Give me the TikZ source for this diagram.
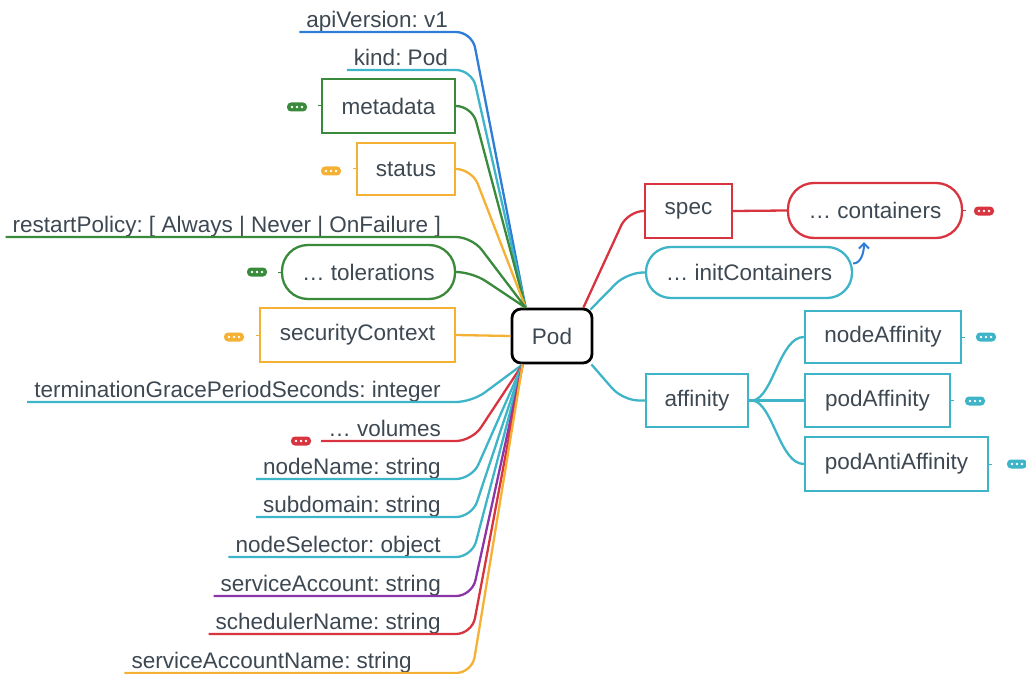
\documentclass[tikz,border=0pt]{standalone}
\usepackage{fontspec}
\setmainfont{Liberation Sans}
\usetikzlibrary{calc,arrows.meta}
\frenchspacing

\definecolor{ink}{HTML}{3D4852}
\definecolor{cBlue}{HTML}{2E7DD6}
\definecolor{cCyan}{HTML}{3DB4C8}
\definecolor{cGreen}{HTML}{3A8A3C}
\definecolor{cOrange}{HTML}{F5B133}
\definecolor{cRed}{HTML}{D8343F}
\definecolor{cPurple}{HTML}{8A36A8}

\tikzset{
  wire/.style={line width=2.3pt, rounded corners=16pt},
  field/.style={anchor=south east, inner xsep=7pt, inner ysep=2pt,
    text height=.75em, text depth=.25em, text=ink},
  box/.style={draw, line width=2.3pt, text=ink, minimum height=54pt, inner sep=0pt},
  stadium/.style={box, rounded corners=26pt},
  pill/.style={rounded corners=4pt, minimum width=20pt, minimum height=9pt, inner sep=0pt},
  stub/.style={line width=1pt},
}

% collapsed-branch marker: name, colour, position
\newcommand\collapsed[3]{%
  \node[pill, fill=#2] (#1) at (#3) {};
  \foreach \dx in {-5,0,5} \fill[white] ($(#1.center)+(\dx,0)$) circle (1.3pt);
}

\begin{document}
\begin{tikzpicture}[x=1pt, y=-1pt, font=\fontsize{22.5}{27}\selectfont]
\useasboundingbox (0,0) rectangle (1026,674);

% root
\node[box, draw=black, line width=2.8pt, rounded corners=9pt, minimum width=80pt] (pod) at (552,336) {Pod};
\coordinate (pu) at ($(pod.north west)+(15,0)$);
\coordinate (pd) at ($(pod.south west)+(12,0)$);
\coordinate (bend) at (472,0);

% ---- left side: plain fields ----
\node[field] (api)   at (455,32)  {apiVersion: v1};
\node[field] (kind)  at (455,70)  {kind: Pod};
\node[field] (rp)    at (448,237) {restartPolicy: [ Always | Never | OnFailure ]};
\node[field] (tgps)  at (448,402) {terminationGracePeriodSeconds: integer};
\node[field] (vol)   at (448,441) {… volumes};
\node[field] (nn)    at (448,479) {nodeName: string};
\node[field] (sd)    at (448,517) {subdomain: string};
\node[field] (ns)    at (448,557) {nodeSelector: object};
\node[field] (sa)    at (448,596) {serviceAccount: string};
\node[field] (sn)    at (448,634) {schedulerName: string};
\node[field] (san)   at (419,673) {serviceAccountName: string};

% ---- left side: boxed fields ----
\node[box, draw=cGreen, minimum width=133pt] (meta) at (388.5,106) {metadata};
\node[box, draw=cOrange, minimum width=98pt, minimum height=52pt] (status) at (406,169) {status};
\node[stadium, draw=cGreen, minimum width=173pt] (tol) at (368.5,272) {… tolerations};
\node[box, draw=cOrange, minimum width=195pt] (sec) at (357.5,335) {securityContext};

% ---- connectors into the root, upper half ----
\draw[wire, cBlue]   (api.south west)  -- (api.south west -| bend)  -- (pu);
\draw[wire, cCyan]   (kind.south west) -- (kind.south west -| bend) -- (pu);
\draw[wire, cGreen]  (meta.east)       -- (meta.east -| bend)       -- (pu);
\draw[wire, cOrange] (status.east)     -- (status.east -| bend)     -- (pu);
\draw[wire, cGreen]  (rp.south west)   -- (rp.south west -| bend)   -- (pu);
\draw[wire, cGreen]  (tol.east)        -- (tol.east -| bend)        -- (pu);
\draw[line width=2.3pt, cOrange] (sec.east) -- (pod.west);

% ---- connectors into the root, lower half ----
\draw[wire, cCyan]   (tgps.south west) -- (tgps.south west -| bend) -- (pd);
\draw[wire, cRed]    (vol.south west)  -- (vol.south west -| bend)  -- (pd);
\draw[wire, cCyan]   (nn.south west)   -- (nn.south west -| bend)   -- (pd);
\draw[wire, cCyan]   (sd.south west)   -- (sd.south west -| bend)   -- (pd);
\draw[wire, cCyan]   (ns.south west)   -- (ns.south west -| bend)   -- (pd);
\draw[wire, cPurple] (sa.south west)   -- (sa.south west -| bend)   -- (pd);
\draw[wire, cRed]    (sn.south west)   -- (sn.south west -| bend)   -- (pd);
\draw[wire, cOrange] (san.south west)  -- (san.south west -| bend)  -- (pd);

% ---- collapsed markers, left ----
\collapsed{metaMore}{cGreen}{297,107}
\collapsed{statusMore}{cOrange}{331,171}
\collapsed{tolMore}{cGreen}{257,272}
\collapsed{secMore}{cOrange}{234,337}
\collapsed{volMore}{cRed}{301,441}
\draw[stub, cGreen]  (meta.west)   -- ++(-3,0);
\draw[stub, cOrange] (status.west) -- ++(-3,0);
\draw[stub, cGreen]  (tol.west)    -- ++(-3,0);
\draw[stub, cOrange] (sec.west)    -- ++(-3,0);

% ---- right side ----
\node[box, draw=cRed, minimum width=87pt] (spec) at (688.5,211) {spec};
\node[stadium, draw=cRed, minimum width=174pt, minimum height=55pt] (cont) at (875,210.5) {… containers};
\node[stadium, draw=cCyan, minimum width=206pt, minimum height=51pt, rounded corners=25pt] (init) at (749,272.5) {… initContainers};
\node[box, draw=cCyan, minimum width=102pt, minimum height=53pt] (aff) at (697,400.5) {affinity};
\node[box, draw=cCyan, minimum width=156pt, minimum height=52pt] (naff) at (883,337) {nodeAffinity};
\node[box, draw=cCyan, minimum width=145pt, minimum height=53pt] (paff) at (877.5,400.5) {podAffinity};
\node[box, draw=cCyan, minimum width=183pt] (paaff) at (896.5,464) {podAntiAffinity};

\draw[wire, cRed]  ($(pod.north east)+(-10,0)$) -- ($(spec.west)+(-16,0)$) -- (spec.west);
\draw[wire, cCyan] ($(pod.north east)+(-3,2)$) -- ($(init.west)+(-18,0)$) -- (init.west);
\draw[wire, cCyan] ($(pod.south east)+(-2,0)$) -- ($(aff.west)+(-22,0)$) -- (aff.west);
\draw[line width=2.3pt, cRed] (spec.east) -- (cont.west);

\coordinate (fan) at ($(aff.east)+(4,0)$);
\draw[line width=2.3pt, cCyan] (aff.east) -- (fan);
\draw[line width=2.3pt, cCyan] (fan) .. controls +(20,-4) and +(-24,0) .. (naff.west);
\draw[line width=2.3pt, cCyan] (fan) -- (paff.west);
\draw[line width=2.3pt, cCyan] (fan) .. controls +(20,4) and +(-24,0) .. (paaff.west);

% initContainers runs before containers
\draw[line width=2pt, cBlue, -{Straight Barb[length=5pt, width=10pt]}]
  ($(init.east)+(0,-9)$) .. controls +(8,0) and +(0,10) .. ($(cont.south)+(-11,3)$);

% ---- collapsed markers, right ----
\collapsed{contMore}{cRed}{984,211}
\collapsed{naffMore}{cCyan}{986,337}
\collapsed{paffMore}{cCyan}{975,401}
\collapsed{paaffMore}{cCyan}{1017,464}
\draw[stub, cRed]  (cont.east)  -- ++(3,0);
\draw[stub, cCyan] (naff.east)  -- ++(3,0);
\draw[stub, cCyan] (paff.east)  -- ++(3,0);
\draw[stub, cCyan] (paaff.east) -- ++(3,0);
\end{tikzpicture}
\end{document}
